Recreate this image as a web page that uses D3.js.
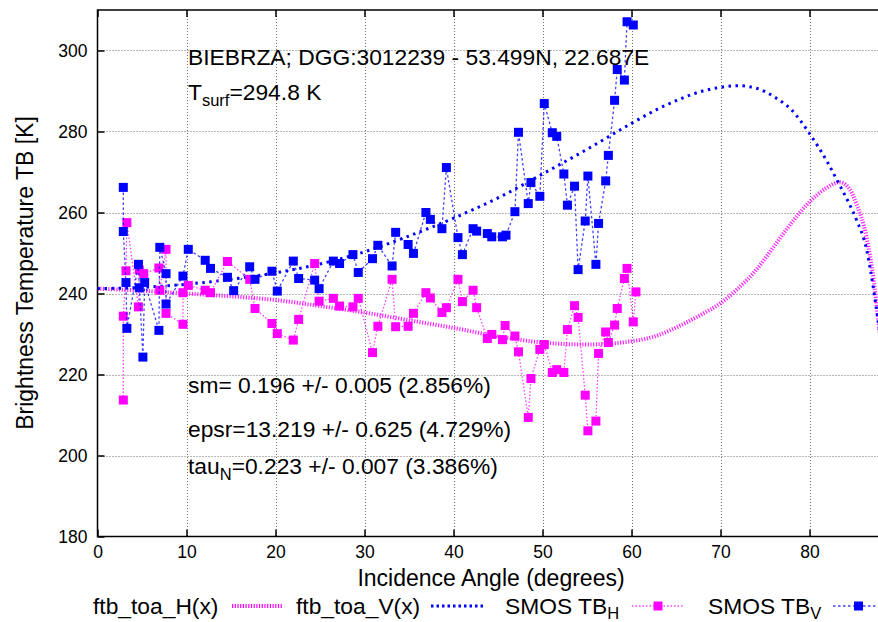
<!DOCTYPE html>
<html>
<head>
<meta charset="utf-8">
<script src="https://cdn.jsdelivr.net/npm/d3@7"></script>
<style>
body { margin: 0; background: #fff; }
text { font-family: "Liberation Sans", Arial, sans-serif; fill: #000; }
</style>
</head>
<body>
<div id="chart"></div>
<script>
// model curves (angle in degrees, TB in K)
var curveAngles = [0, 5, 10, 15, 20, 25, 30, 35, 40, 45, 50, 55, 60, 63, 65, 68, 70, 72, 74, 76, 78, 80, 82, 83.4, 84.5, 85.3, 86.4, 87.2, 87.7, 88];
var ftbV = [241.2, 241.5, 242.3, 243.5, 245.1, 247.3, 250.3, 254.2, 258.6, 263.6, 269.5, 275.6, 282.0, 285.6, 287.6, 290.0, 290.9, 291.3, 290.7, 288.6, 285.3, 279.5, 272.5, 266.7, 262.0, 258.1, 251.0, 241.0, 233.4, 228.5];
var ftbH = [241.2, 240.7, 240.0, 239.3, 238.4, 236.9, 235.3, 233.4, 231.5, 229.4, 227.9, 227.4, 228.2, 229.7, 231.6, 235.0, 237.6, 241.3, 245.8, 251.6, 257.5, 262.6, 266.2, 267.5, 265.8, 262.0, 254.0, 243.5, 234.0, 228.5];

// SMOS observations
var smosAngH = [2.9, 2.9, 3.2, 3.3, 4.6, 4.7, 5.2, 6.9, 7.0, 7.7, 7.7, 9.6, 9.6, 10.2, 12.1, 12.7, 14.6, 17.1, 17.7, 19.6, 20.2, 22.0, 22.6, 24.4, 24.9, 26.5, 27.2, 28.7, 29.3, 30.9, 31.5, 33.1, 33.5, 34.9, 35.5, 36.9, 37.4, 38.7, 39.2, 40.5, 41.0, 42.2, 42.6, 43.8, 44.3, 45.5, 45.8, 46.9, 47.3, 48.4, 48.7, 49.7, 50.2, 51.1, 51.6, 52.4, 52.8, 53.6, 54.0, 54.8, 55.1, 56.0, 56.3, 57.1, 57.4, 58.1, 58.4, 59.2, 59.5, 60.2, 60.5];
var smosTbH = [213.7, 234.4, 245.6, 257.5, 236.7, 245.8, 244.9, 246.3, 240.8, 250.9, 235.1, 232.4, 240.2, 242.0, 240.8, 240.2, 247.9, 243.5, 236.3, 232.6, 230.1, 228.5, 233.6, 247.4, 238.1, 238.8, 236.9, 236.7, 238.8, 225.4, 231.9, 243.5, 231.8, 231.9, 235.1, 240.2, 238.9, 235.3, 236.5, 243.5, 238.0, 240.8, 236.5, 228.9, 229.9, 228.6, 232.1, 229.5, 225.6, 209.4, 219.0, 226.2, 227.4, 220.5, 221.2, 220.5, 231.1, 237.0, 234.1, 214.9, 206.1, 208.5, 225.2, 230.5, 227.9, 232.2, 236.3, 243.7, 246.2, 233.0, 240.4];
var smosAngV = [2.9, 2.9, 3.2, 3.3, 4.6, 4.7, 5.1, 5.3, 6.9, 7.0, 7.7, 7.7, 9.6, 10.2, 12.1, 12.7, 14.6, 15.3, 17.1, 17.7, 19.6, 20.2, 22.0, 22.6, 24.4, 24.9, 26.5, 27.2, 28.7, 29.3, 30.9, 31.5, 33.1, 33.5, 34.9, 35.5, 36.9, 37.4, 38.7, 39.2, 40.5, 41.0, 42.2, 42.6, 43.8, 44.3, 45.5, 45.9, 46.9, 47.3, 48.4, 48.7, 49.7, 50.2, 51.1, 51.6, 52.4, 52.8, 53.6, 54.0, 54.8, 55.1, 56.0, 56.3, 57.1, 57.4, 58.1, 58.4, 59.2, 59.5, 60.2];
var smosTbV = [266.2, 255.3, 242.7, 231.4, 247.2, 241.4, 224.3, 242.7, 230.9, 251.4, 244.9, 237.4, 244.3, 250.9, 248.2, 246.2, 244.0, 240.7, 246.6, 243.5, 245.5, 240.6, 248.0, 243.7, 243.3, 241.2, 248.0, 247.4, 249.6, 245.2, 248.6, 251.9, 246.8, 255.1, 252.1, 249.9, 260.0, 258.3, 256.0, 271.1, 253.8, 249.6, 256.0, 255.4, 254.8, 254.0, 254.0, 254.4, 260.2, 279.8, 262.2, 267.4, 264.0, 286.9, 279.7, 278.8, 269.5, 261.8, 266.5, 245.9, 257.9, 269.0, 247.2, 257.3, 267.8, 274.1, 287.7, 295.3, 292.7, 307.1, 306.3];

var xTicks = [0, 10, 20, 30, 40, 50, 60, 70, 80];
var yTicks = [180, 200, 220, 240, 260, 280, 300];

var W = 878, H = 622;
var pLeft = 97.5, pTop = 10, pBottom = 536.5, pRight = 880.7;

var svg = d3.select("#chart").append("svg").attr("width", W).attr("height", H);

var x = d3.scaleLinear().domain([0, 88]).range([pLeft, pRight]);
var y = d3.scaleLinear().domain([180, 310]).range([pBottom, pTop]);

svg.append("clipPath").attr("id", "clip")
.append("rect").attr("x", pLeft).attr("y", pTop).attr("width", pRight - pLeft).attr("height", pBottom - pTop);

// grid
var grid = svg.append("g").attr("stroke", "#707070").attr("stroke-width", 1).attr("stroke-dasharray", "1,2");
grid.selectAll(".gx").data(xTicks.slice(1)).enter().append("line")
.attr("x1", function(d) { return Math.round(x(d)) + 0.5; })
.attr("x2", function(d) { return Math.round(x(d)) + 0.5; })
.attr("y1", pTop).attr("y2", pBottom);
grid.selectAll(".gy").data(yTicks.slice(1)).enter().append("line")
.attr("x1", pLeft).attr("x2", pRight)
.attr("y1", function(d) { return Math.round(y(d)) + 0.5; })
.attr("y2", function(d) { return Math.round(y(d)) + 0.5; });

// axes, ticks inward, mirrored on top
svg.append("g").attr("transform", "translate(0," + pBottom + ")")
.call(d3.axisBottom(x).tickValues(xTicks).tickSizeInner(-7).tickSizeOuter(0).tickPadding(9))
.call(function(g) { g.select(".domain").remove(); g.selectAll("line").attr("stroke-width", 1.5); g.selectAll("text").style("font-size", "17.5px").attr("font-family", null); });
svg.append("g").attr("transform", "translate(0," + pTop + ")")
.call(d3.axisTop(x).tickValues(xTicks).tickSizeInner(-7).tickSizeOuter(0).tickFormat(""))
.call(function(g) { g.select(".domain").remove(); g.selectAll("line").attr("stroke-width", 1.5); });
svg.append("g").attr("transform", "translate(" + pLeft + ",0)")
.call(d3.axisLeft(y).tickValues(yTicks).tickSizeInner(-7).tickSizeOuter(0).tickPadding(10))
.call(function(g) { g.select(".domain").remove(); g.selectAll("line").attr("stroke-width", 1.5); g.selectAll("text").style("font-size", "17.5px").attr("font-family", null); });

svg.append("rect").attr("x", pLeft).attr("y", pTop).attr("width", pRight - pLeft).attr("height", pBottom - pTop)
.attr("fill", "none").attr("stroke", "#000").attr("stroke-width", 1.5);

var plot = svg.append("g").attr("clip-path", "url(#clip)");

var curveLine = function(vals) {
return d3.line().curve(d3.curveMonotoneX)
.x(function(d, i) { return x(curveAngles[i]); })
.y(function(d) { return y(d); })(vals);
};

plot.append("path").attr("d", curveLine(ftbH))
.attr("fill", "none").attr("stroke", "#ff00ff").attr("stroke-opacity", 0.85)
.attr("stroke-width", 4).attr("stroke-dasharray", "1.2,1.5");
plot.append("path").attr("d", curveLine(ftbV))
.attr("fill", "none").attr("stroke", "#0000ff")
.attr("stroke-width", 3).attr("stroke-dasharray", "2.5,4.5");

function drawSmos(angs, vals, color, dash) {
var pts = angs.map(function(a, i) { return [a, vals[i]]; });
plot.append("path")
.attr("d", d3.line().x(function(d) { return x(d[0]); }).y(function(d) { return y(d[1]); })(pts))
.attr("fill", "none").attr("stroke", color).attr("stroke-opacity", 0.75)
.attr("stroke-width", 1.3).attr("stroke-dasharray", dash);
plot.selectAll(null).data(pts).enter().append("rect")
.attr("x", function(d) { return x(d[0]) - 4.5; })
.attr("y", function(d) { return y(d[1]) - 4.5; })
.attr("width", 9).attr("height", 9)
.attr("fill", color);
}
drawSmos(smosAngH, smosTbH, "#ff00ff", "1.5,2");
drawSmos(smosAngV, smosTbV, "#0000ff", "2.5,2.5");

// axis titles
svg.append("text").attr("x", 491).attr("y", 586).attr("text-anchor", "middle")
.style("font-size", "23px").text("Incidence Angle (degrees)");
svg.append("text").attr("transform", "translate(33,273) rotate(-90)").attr("text-anchor", "middle")
.style("font-size", "23px").text("Brightness Temperature TB [K]");

// annotations
svg.append("text").attr("x", 188).attr("y", 65).style("font-size", "22.8px")
.text("BIEBRZA; DGG:3012239 - 53.499N, 22.687E");
var ts = svg.append("text").attr("x", 188).attr("y", 100).style("font-size", "22.8px");
ts.append("tspan").text("T");
ts.append("tspan").attr("dy", 6).style("font-size", "16.5px").text("surf");
ts.append("tspan").attr("dy", -6).text("=294.8 K");
svg.append("text").attr("x", 188).attr("y", 393).style("font-size", "22.8px").text("sm= 0.196 +/- 0.005 (2.856%)");
svg.append("text").attr("x", 188).attr("y", 437).style("font-size", "22.8px").text("epsr=13.219 +/- 0.625 (4.729%)");
var tn = svg.append("text").attr("x", 188).attr("y", 474).style("font-size", "22.8px");
tn.append("tspan").text("tau");
tn.append("tspan").attr("dy", 6).style("font-size", "16.5px").text("N");
tn.append("tspan").attr("dy", -6).text("=0.223 +/- 0.007 (3.386%)");

// legend
var ly = 606;
var key = [
{ x: 93, label: "ftb_toa_H(x)", sub: null, s0: 232, s1: 282, color: "#ff00ff", w: 4, dash: "1.2,1.5", mark: false },
{ x: 296, label: "ftb_toa_V(x)", sub: null, s0: 431, s1: 483, color: "#0000ff", w: 3, dash: "2.5,3", mark: false },
{ x: 505, label: "SMOS TB", sub: "H", s0: 632, s1: 684, color: "#ff00ff", w: 1.3, dash: "1.5,2", mark: true },
{ x: 708, label: "SMOS TB", sub: "V", s0: 833, s1: 884, color: "#0000ff", w: 1.3, dash: "2.5,2.5", mark: true }
];
key.forEach(function(k) {
var t = svg.append("text").attr("x", k.x).attr("y", ly + 8).style("font-size", "22.8px");
t.append("tspan").text(k.label);
if (k.sub) t.append("tspan").attr("dy", 5).style("font-size", "16.5px").text(k.sub);
svg.append("line").attr("x1", k.s0).attr("x2", k.s1).attr("y1", ly).attr("y2", ly)
.attr("stroke", k.color).attr("stroke-width", k.w).attr("stroke-dasharray", k.dash)
.attr("stroke-opacity", k.mark ? 0.75 : 1);
if (k.mark) svg.append("rect").attr("x", (k.s0 + k.s1) / 2 - 4.5).attr("y", ly - 4.5)
.attr("width", 9).attr("height", 9).attr("fill", k.color);
});
</script>
</body>
</html>
